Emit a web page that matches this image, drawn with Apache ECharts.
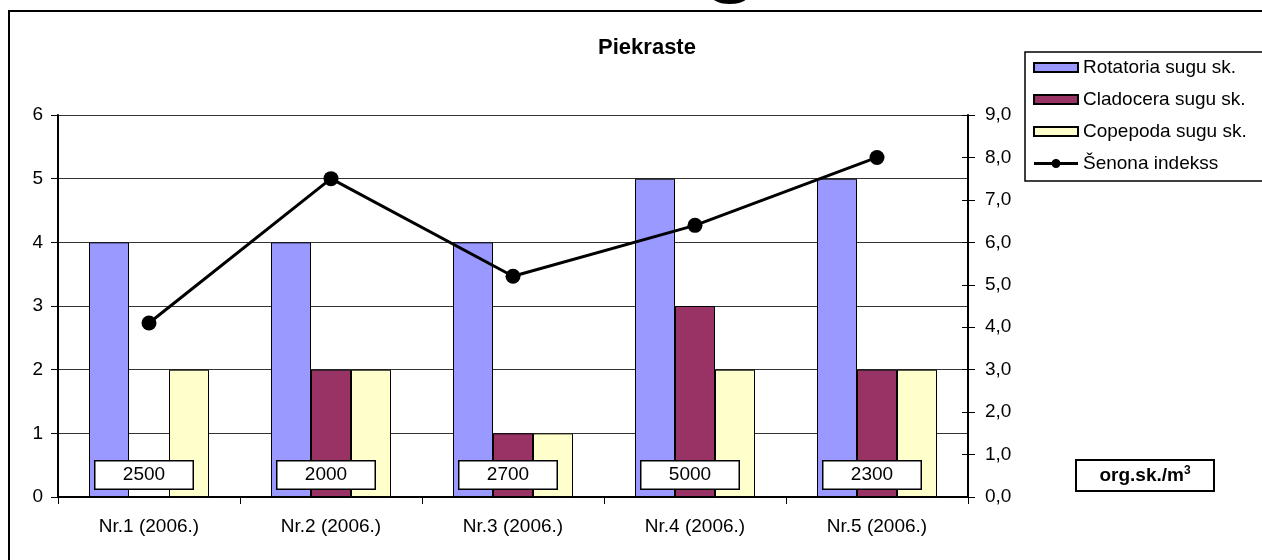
<!DOCTYPE html>
<html>
<head>
<meta charset="utf-8">
<style>
  html, body { margin: 0; padding: 0; background: #fff; }
  #chart { width: 1262px; height: 560px; }
</style>
<script src="https://cdn.jsdelivr.net/npm/echarts@6/dist/echarts.min.js"></script>
</head>
<body>
<div id="chart"></div>
<script>
// stations
const categories = ["Nr.1 (2006.)", "Nr.2 (2006.)", "Nr.3 (2006.)", "Nr.4 (2006.)", "Nr.5 (2006.)"];
// species counts (left axis)
const rotatoria = [4, 4, 4, 5, 5];
const cladocera = [0, 2, 1, 3, 2];
const copepoda = [2, 2, 1, 2, 2];
// Shannon index (right axis)
const shannon = [4.1, 7.5, 5.2, 6.4, 8.0];
// density labels, org.sk./m3
const density = [2500, 2000, 2700, 5000, 2300];

const font = "Liberation Sans, Arial, sans-serif";
const chart = echarts.init(document.getElementById("chart"));

const barStyle = (color) => ({ color: color, borderColor: "#000", borderWidth: 1 });
// legend icon for the line: thick stroke with a dot in the middle
const lineIcon = "path://M0 3H18V6H0Z M26 3H44V6H26Z M17.5 4.5A4.5 4.5 0 1 1 26.5 4.5A4.5 4.5 0 1 1 17.5 4.5Z";

chart.setOption({
  backgroundColor: "#fff",
  animation: false,
  textStyle: { fontFamily: font, color: "#000" },
  title: {
    text: "Piekraste",
    left: 642,
    top: 32,
    textAlign: "center",
    textStyle: { fontFamily: font, fontSize: 22, fontWeight: "bold", color: "#000" },
  },
  graphic: [
    {
      // frame round the whole chart
      type: "rect",
      shape: { x: 9, y: 11, width: 1400, height: 700 },
      style: { fill: "none", stroke: "#000", lineWidth: 2 },
      silent: true,
    },
    {
      // descender of the page heading cut by the top edge
      type: "text",
      x: 731,
      y: -42,
      style: { text: "g", font: "bold 96px Liberation Sans", fill: "#000", align: "center", verticalAlign: "middle" },
      silent: true,
    },
    {
      type: "group",
      left: 1075,
      top: 459,
      children: [
        { type: "rect", shape: { x: 0, y: 0, width: 138, height: 31 }, style: { fill: "#fff", stroke: "#000", lineWidth: 2 } },
        {
          type: "text",
          x: 69,
          y: 16,
          style: {
            text: "{a|org.sk./m}{s|3}",
            align: "center",
            verticalAlign: "middle",
            rich: {
              a: { fontFamily: font, fontSize: 19, fontWeight: "bold", fill: "#000" },
              s: { fontFamily: font, fontSize: 12, fontWeight: "bold", fill: "#000", padding: [0, 0, 10, 0] },
            },
          },
        },
      ],
    },
  ],
  legend: {
    orient: "vertical",
    left: 1025,
    top: 52,
    padding: [6, 60, 8, 8],
    itemGap: 13,
    itemWidth: 44,
    itemHeight: 9,
    borderColor: "#000",
    borderWidth: 1.5,
    borderRadius: 0,
    data: [
      { name: "Rotatoria sugu sk.", icon: "rect" },
      { name: "Cladocera sugu sk.", icon: "rect" },
      { name: "Copepoda sugu sk.", icon: "rect" },
      { name: "Šenona indekss", icon: lineIcon, itemStyle: { color: "#000", borderWidth: 0 } },
    ],
    textStyle: { fontFamily: font, fontSize: 19, color: "#000" },
  },
  grid: { left: 58, right: 294, top: 115, bottom: 63 },
  xAxis: {
    type: "category",
    data: categories,
    axisLine: { lineStyle: { color: "#000", width: 2 } },
    axisTick: { show: true, length: 7, lineStyle: { color: "#000" } },
    axisLabel: { fontFamily: font, fontSize: 19, color: "#000", margin: 20 },
  },
  yAxis: [
    {
      type: "value",
      min: 0,
      max: 6,
      interval: 1,
      position: "left",
      axisLine: { show: true, lineStyle: { color: "#000", width: 2 } },
      axisTick: { show: true, length: 7, lineStyle: { color: "#000" } },
      axisLabel: { fontFamily: font, fontSize: 19, color: "#000", margin: 15 },
      splitLine: { show: true, lineStyle: { color: "#333", width: 1 } },
    },
    {
      type: "value",
      min: 0,
      max: 9,
      interval: 1,
      position: "right",
      axisLine: { show: true, lineStyle: { color: "#000", width: 2 } },
      axisTick: { show: true, length: 7, lineStyle: { color: "#000" } },
      axisLabel: {
        fontFamily: font,
        fontSize: 19,
        color: "#000",
        margin: 17,
        formatter: (v) => v.toFixed(1).replace(".", ","),
      },
      splitLine: { show: false },
    },
    {
      // inner half of the crossing ticks on the right axis
      type: "value",
      min: 0,
      max: 9,
      interval: 1,
      position: "right",
      axisLine: { show: false },
      axisTick: { show: true, inside: true, length: 6, lineStyle: { color: "#000" } },
      axisLabel: { show: false },
      splitLine: { show: false },
    },
  ],
  series: [
    { name: "Rotatoria sugu sk.", type: "bar", data: rotatoria, barWidth: 40, barGap: "0%", itemStyle: barStyle("#9999FF") },
    { name: "Cladocera sugu sk.", type: "bar", data: cladocera, barWidth: 40, barGap: "0%", itemStyle: barStyle("#993366") },
    { name: "Copepoda sugu sk.", type: "bar", data: copepoda, barWidth: 40, barGap: "0%", itemStyle: barStyle("#FFFFCC") },
    {
      name: "Šenona indekss",
      type: "line",
      yAxisIndex: 1,
      data: shannon,
      symbol: "circle",
      symbolSize: 15,
      itemStyle: { color: "#000" },
      lineStyle: { color: "#000", width: 3 },
      z: 5,
    },
    {
      name: "density",
      type: "scatter",
      data: density.map(() => 0),
      symbolSize: 0,
      z: 6,
      itemStyle: { opacity: 1 },
      label: {
        show: true,
        position: "inside",
        offset: [-5, -22],
        formatter: (p) => String(density[p.dataIndex]),
        fontFamily: font,
        fontSize: 19,
        color: "#000",
        backgroundColor: "#fff",
        borderColor: "#000",
        borderWidth: 1.5,
        width: 93,
        height: 25,
        align: "center",
        verticalAlign: "middle",
        lineHeight: 25,
        padding: [1, 2],
      },
    },
  ],
});
</script>
</body>
</html>
